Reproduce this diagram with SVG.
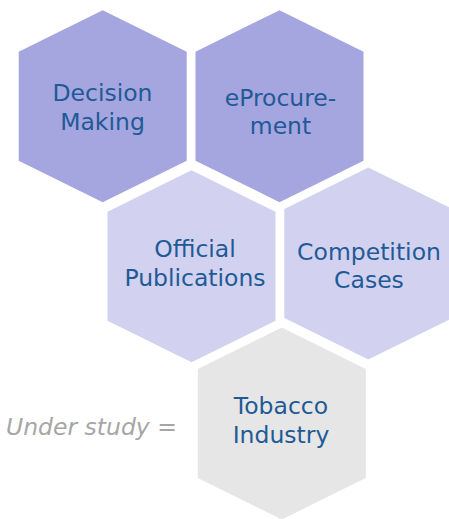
<svg xmlns="http://www.w3.org/2000/svg" width="449" height="519" viewBox="0 0 449 519">
<defs>
<path id="hex" d="M0,-96 L84,-54.5 L84,54.5 L0,96 L-84,54.5 L-84,-54.5 Z"/>
</defs>
<style>
.dark{fill:#A5A5DF}
.light{fill:#D2D2F0}
.grey{fill:#E6E6E6}
.lbl{font-family:"DejaVu Sans",Verdana,sans-serif;font-size:23.5px;fill:#1F5A97;text-anchor:middle}
.note{font-family:"DejaVu Sans",Verdana,sans-serif;font-size:23.5px;font-style:italic;fill:#A6A6A6}
</style>
<rect width="449" height="519" fill="#FFFFFF"/>
<g id="decision-making">
<use href="#hex" class="dark" x="102.7" y="106.2"/>
<text class="lbl"><tspan x="102.5" y="101">Decision</tspan><tspan x="102.5" y="130">Making</tspan></text>
</g>
<g id="eprocurement">
<use href="#hex" class="dark" x="279.5" y="106.2"/>
<text class="lbl"><tspan x="280.5" y="106">eProcure-</tspan><tspan x="280.5" y="134">ment</tspan></text>
</g>
<g id="official-publications">
<use href="#hex" class="light" x="191.5" y="266.3"/>
<text class="lbl"><tspan x="195" y="257">Official</tspan><tspan x="195" y="285.5">Publications</tspan></text>
</g>
<g id="competition-cases">
<use href="#hex" class="light" x="368.3" y="263.5"/>
<text class="lbl"><tspan x="369" y="260">Competition</tspan><tspan x="369" y="288">Cases</tspan></text>
</g>
<g id="tobacco-industry">
<use href="#hex" class="grey" x="281.8" y="423.5"/>
<text class="lbl"><tspan x="281" y="414">Tobacco</tspan><tspan x="281" y="442.5">Industry</tspan></text>
</g>
<g id="connectors"></g>
<text class="note" x="6" y="434.5">Under study =</text>
</svg>
